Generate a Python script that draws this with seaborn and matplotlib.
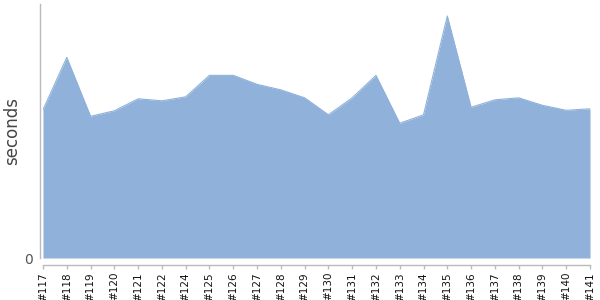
import matplotlib
matplotlib.use("Agg")
import matplotlib.pyplot as plt
import seaborn as sns
import pandas as pd

builds = ["#117", "#118", "#119", "#120", "#121", "#122", "#124", "#125", "#126",
          "#127", "#128", "#129", "#130", "#131", "#132", "#133", "#134", "#135",
          "#136", "#137", "#138", "#139", "#140", "#141"]
seconds = [148.5, 201, 142, 147.5, 159.5, 157.5, 161.5, 183, 183,
           174, 168.5, 160.5, 143.5, 160.5, 183, 135, 143.5, 242.5,
           151, 158.5, 160.5, 153, 148, 149.5]

df = pd.DataFrame({"build": builds, "seconds": seconds})
df["pos"] = range(len(df))

sns.set_theme(style="white")
plt.rcParams["font.family"] = ["DejaVu Sans"]

fig = plt.figure(figsize=(6, 3), dpi=100)
ax = fig.add_axes([43 / 600, 42 / 300, 547 / 600, 254 / 300])

fill_color = "#8fb1da"
ax.fill_between(df["pos"], 0, df["seconds"], color=fill_color, linewidth=0)
sns.lineplot(data=df, x="pos", y="seconds", ax=ax, color=fill_color, linewidth=0.8)

ax.set_xlim(0, len(df) - 1)
ax.set_ylim(0, 254.5)
ax.set_xticks(df["pos"].tolist())
ax.set_xticklabels(df["build"].tolist())
ax.set_yticks([0])
ax.set_yticklabels(["0"])
ax.set_xlabel("")
ax.set_ylabel("seconds", fontsize=12, color="#444444")
ax.yaxis.set_label_coords(-0.041, 0.5)

for side in ["top", "right"]:
    ax.spines[side].set_visible(False)
for side in ["left", "bottom"]:
    ax.spines[side].set_color("#bbbbbb")
    ax.spines[side].set_linewidth(1)
ax.spines["left"].set_position(("outward", 2))
ax.spines["bottom"].set_position(("outward", 5))
ax.tick_params(axis="x", length=3, width=1, color="#bbbbbb", pad=2, bottom=True,
               labelrotation=90, labelsize=7.5, labelcolor="#111111")
ax.tick_params(axis="y", length=0, pad=5, labelsize=10, labelcolor="#555555")

fig.savefig("out.png", dpi=100)
